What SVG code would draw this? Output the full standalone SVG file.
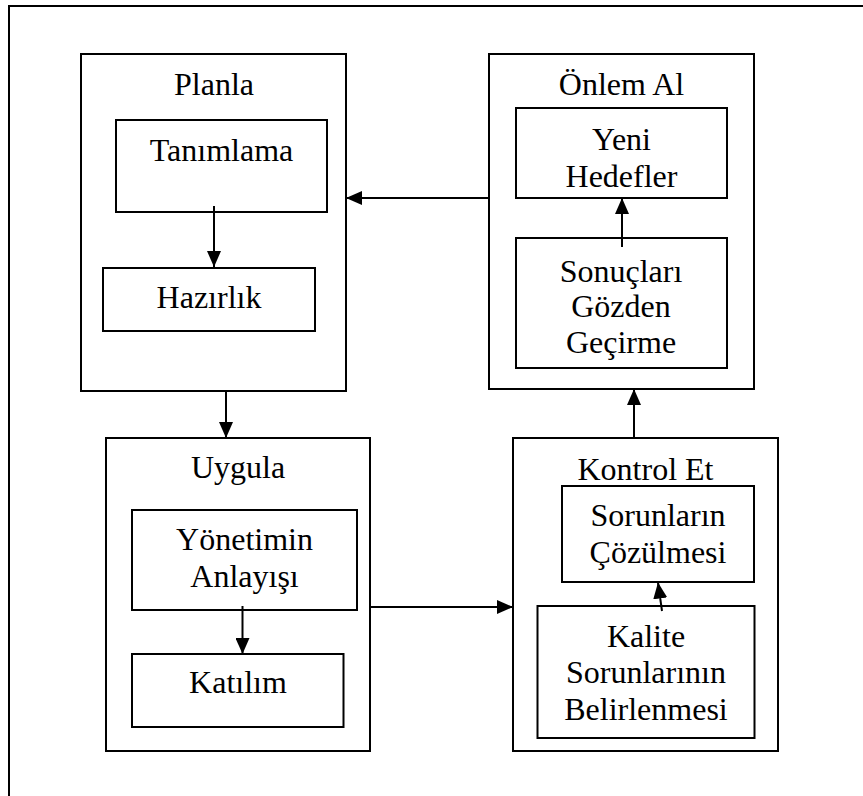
<svg xmlns="http://www.w3.org/2000/svg" width="863" height="796" viewBox="0 0 863 796">
  <style>
    .box { fill: none; stroke: #000; stroke-width: 2; }
    .frame { fill: none; stroke: #000; stroke-width: 2; }
    .edge { fill: none; stroke: #000; stroke-width: 2; marker-end: url(#arrow); }
    text { font-family: "Liberation Serif", "Times New Roman", serif; font-size: 32px; fill: #000; text-anchor: middle; }
  </style>
  <defs>
    <marker id="arrow" markerUnits="userSpaceOnUse" markerWidth="16" markerHeight="14" refX="16" refY="7" orient="auto">
      <path d="M0,0 L16,7 L0,14 z" fill="#000"/>
    </marker>
  </defs>

  <rect width="863" height="796" fill="#fff"/>

  <!-- page frame: top and left rules -->
  <path class="frame" d="M9,796 V6 H863"/>

  <!-- Plan stage -->
  <g id="planla">
    <rect class="box" x="81" y="54" width="265" height="337"/>
    <text x="214" y="95">Planla</text>
  </g>
  <g id="tanimlama">
    <rect class="box" x="116" y="120" width="211" height="92"/>
    <text x="221.5" y="161">Tanımlama</text>
  </g>
  <g id="hazirlik">
    <rect class="box" x="103" y="268" width="212" height="63"/>
    <text x="209" y="308">Hazırlık</text>
  </g>

  <!-- Act stage -->
  <g id="onlem-al">
    <rect class="box" x="489" y="54" width="265" height="335"/>
    <text x="621.5" y="95">Önlem Al</text>
  </g>
  <g id="yeni-hedefler">
    <rect class="box" x="516" y="108" width="211" height="90"/>
    <text x="621.5" y="150">Yeni</text>
    <text x="621.5" y="186.5">Hedefler</text>
  </g>
  <g id="sonuclari">
    <rect class="box" x="516" y="238" width="211" height="130"/>
    <text x="621" y="281.5">Sonuçları</text>
    <text x="621" y="317">Gözden</text>
    <text x="621" y="353">Geçirme</text>
  </g>

  <!-- Do stage -->
  <g id="uygula">
    <rect class="box" x="106" y="438" width="264" height="313"/>
    <text x="238" y="478">Uygula</text>
  </g>
  <g id="yonetimin">
    <rect class="box" x="132" y="510" width="225" height="100"/>
    <text x="244.5" y="550">Yönetimin</text>
    <text x="244.5" y="587">Anlayışı</text>
  </g>
  <g id="katilim">
    <rect class="box" x="132" y="654" width="211.5" height="73"/>
    <text x="238" y="693">Katılım</text>
  </g>

  <!-- Check stage -->
  <g id="kontrol-et">
    <rect class="box" x="513" y="438" width="265" height="313"/>
    <text x="645.5" y="480">Kontrol Et</text>
  </g>
  <g id="sorunlarin">
    <rect class="box" x="562" y="486" width="192" height="96"/>
    <text x="658" y="526">Sorunların</text>
    <text x="658" y="563">Çözülmesi</text>
  </g>
  <g id="kalite">
    <rect class="box" x="537.5" y="606" width="217" height="132"/>
    <text x="646" y="646.5">Kalite</text>
    <text x="646" y="683">Sorunlarının</text>
    <text x="646" y="720">Belirlenmesi</text>
  </g>

  <!-- connectors -->
  <g id="connectors">
    <path class="edge" d="M214,206 V267"/>
    <path class="edge" d="M226,391 V438"/>
    <path class="edge" d="M242.5,606 V654"/>
    <path class="edge" d="M370,607 H513"/>
    <path class="edge" d="M634,438 V389"/>
    <path class="edge" d="M662,611 L658,582.5"/>
    <path class="edge" d="M622,247 V198"/>
    <path class="edge" d="M489,198 H346"/>
  </g>
</svg>
